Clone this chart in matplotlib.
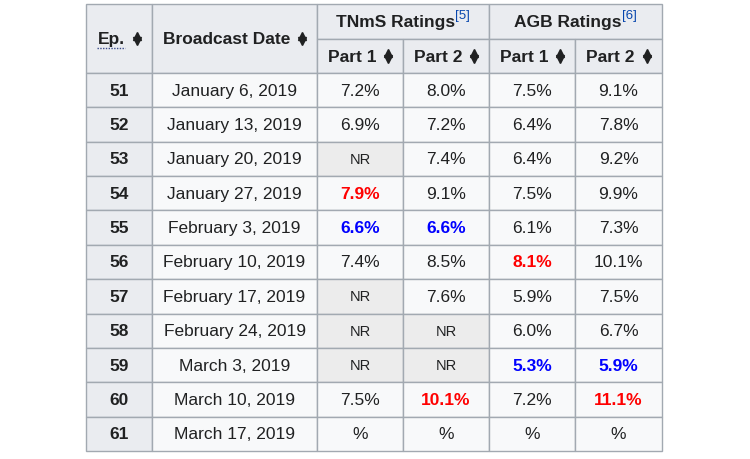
import matplotlib.pyplot as plt
from matplotlib.patches import Rectangle

plt.rcParams['font.family'] = ['Liberation Sans', 'DejaVu Sans']

episodes = ["51", "52", "53", "54", "55", "56", "57", "58", "59", "60", "61"]
dates = ["January 6, 2019", "January 13, 2019", "January 20, 2019", "January 27, 2019",
         "February 3, 2019", "February 10, 2019", "February 17, 2019", "February 24, 2019",
         "March 3, 2019", "March 10, 2019", "March 17, 2019"]
tnms_p1 = ["7.2%", "6.9%", "NR", "7.9%", "6.6%", "7.4%", "NR", "NR", "NR", "7.5%", "%"]
tnms_p2 = ["8.0%", "7.2%", "7.4%", "9.1%", "6.6%", "8.5%", "7.6%", "NR", "NR", "10.1%", "%"]
agb_p1 = ["7.5%", "6.4%", "6.4%", "7.5%", "6.1%", "8.1%", "5.9%", "6.0%", "5.3%", "7.2%", "%"]
agb_p2 = ["9.1%", "7.8%", "9.2%", "9.9%", "7.3%", "10.1%", "7.5%", "6.7%", "5.9%", "11.1%", "%"]

col_edges = [86, 152, 317, 403, 489, 575, 662]
top, head1, head2, bottom = 5, 40, 74, 452
row_h = (bottom - head2) / len(episodes)

border = "#a2a9b1"
head_bg = "#eaecf0"
cell_bg = "#f8f9fa"
nr_bg = "#ececec"
txt = "#202122"
fs = 12.5

fig = plt.figure(figsize=(7.5, 4.6), dpi=100)
ax = fig.add_axes([0, 0, 1, 1])
ax.set_xlim(0, 750)
ax.set_ylim(460, 0)
ax.axis('off')
renderer = fig.canvas.get_renderer()


def cell(x0, x1, y0, y1, color):
    ax.add_patch(Rectangle((x0, y0), x1 - x0, y1 - y0, facecolor=color,
                           edgecolor=border, linewidth=1.0, zorder=1))


def width_of(t):
    bb = t.get_window_extent(renderer=renderer)
    return bb.width


def sort_icon(x, y):
    ax.plot([x], [y - 2.6], marker='^', markersize=5.5, color=txt, zorder=3)
    ax.plot([x], [y + 2.6], marker='v', markersize=5.5, color=txt, zorder=3)


def header(x0, x1, y0, y1, label, underline=False):
    cx, cy = (x0 + x1) / 2, (y0 + y1) / 2
    t = ax.text(0, cy, label, ha='left', va='center', fontsize=fs,
                fontweight='bold', color=txt, zorder=3)
    w = width_of(t)
    total = w + 8 + 8
    start = cx - total / 2
    t.set_x(start)
    sort_icon(start + w + 12, cy)
    if underline:
        ax.plot([start, start + w], [cy + 9, cy + 9], linestyle=(0, (1, 1)),
                color="#3a4a8a", linewidth=1, zorder=3)


def group_header(x0, x1, y0, y1, label, ref):
    cx, cy = (x0 + x1) / 2, (y0 + y1) / 2
    t = ax.text(0, cy, label, ha='left', va='center', fontsize=fs,
                fontweight='bold', color=txt, zorder=3)
    s = ax.text(0, cy - 6, ref, ha='left', va='center', fontsize=9.5,
                color="#0645ad", zorder=3)
    w1, w2 = width_of(t), width_of(s)
    start = cx - (w1 + w2) / 2
    t.set_x(start)
    s.set_x(start + w1)


# header rows
cell(col_edges[0], col_edges[1], top, head2, head_bg)
header(col_edges[0], col_edges[1], top, head2, "Ep.", underline=True)
cell(col_edges[1], col_edges[2], top, head2, head_bg)
header(col_edges[1], col_edges[2], top, head2, "Broadcast Date")
cell(col_edges[2], col_edges[4], top, head1, head_bg)
group_header(col_edges[2], col_edges[4], top, head1, "TNmS Ratings", "[5]")
cell(col_edges[4], col_edges[6], top, head1, head_bg)
group_header(col_edges[4], col_edges[6], top, head1, "AGB Ratings", "[6]")
for i in range(2, 6):
    cell(col_edges[i], col_edges[i + 1], head1, head2, head_bg)
    header(col_edges[i], col_edges[i + 1], head1, head2, "Part 1" if i % 2 == 0 else "Part 2")


def to_num(v):
    try:
        return float(v.rstrip('%'))
    except ValueError:
        return None


rating_cols = [tnms_p1, tnms_p2, agb_p1, agb_p2]

for r in range(len(episodes)):
    y0 = head2 + r * row_h
    y1 = y0 + row_h
    cy = (y0 + y1) / 2
    cell(col_edges[0], col_edges[1], y0, y1, head_bg)
    ax.text((col_edges[0] + col_edges[1]) / 2, cy, episodes[r], ha='center', va='center',
            fontsize=fs, fontweight='bold', color=txt, zorder=3)
    cell(col_edges[1], col_edges[2], y0, y1, cell_bg)
    ax.text((col_edges[1] + col_edges[2]) / 2, cy, dates[r], ha='center', va='center',
            fontsize=fs, color=txt, zorder=3)

for c, values in enumerate(rating_cols):
    nums = [to_num(v) for v in values]
    valid = [n for n in nums if n is not None]
    hi, lo = max(valid), min(valid)
    x0, x1 = col_edges[c + 2], col_edges[c + 3]
    for r, v in enumerate(values):
        y0 = head2 + r * row_h
        y1 = y0 + row_h
        cy = (y0 + y1) / 2
        if v == "NR":
            cell(x0, x1, y0, y1, nr_bg)
            ax.text((x0 + x1) / 2, cy, v, ha='center', va='center',
                    fontsize=10.5, color=txt, zorder=3)
            continue
        cell(x0, x1, y0, y1, cell_bg)
        color, weight = txt, 'normal'
        if nums[r] == hi:
            color, weight = "#ff0000", 'bold'
        elif nums[r] == lo:
            color, weight = "#0000ff", 'bold'
        ax.text((x0 + x1) / 2, cy, v, ha='center', va='center',
                fontsize=fs, color=color, fontweight=weight, zorder=3)

fig.savefig("out.png", dpi=100)
